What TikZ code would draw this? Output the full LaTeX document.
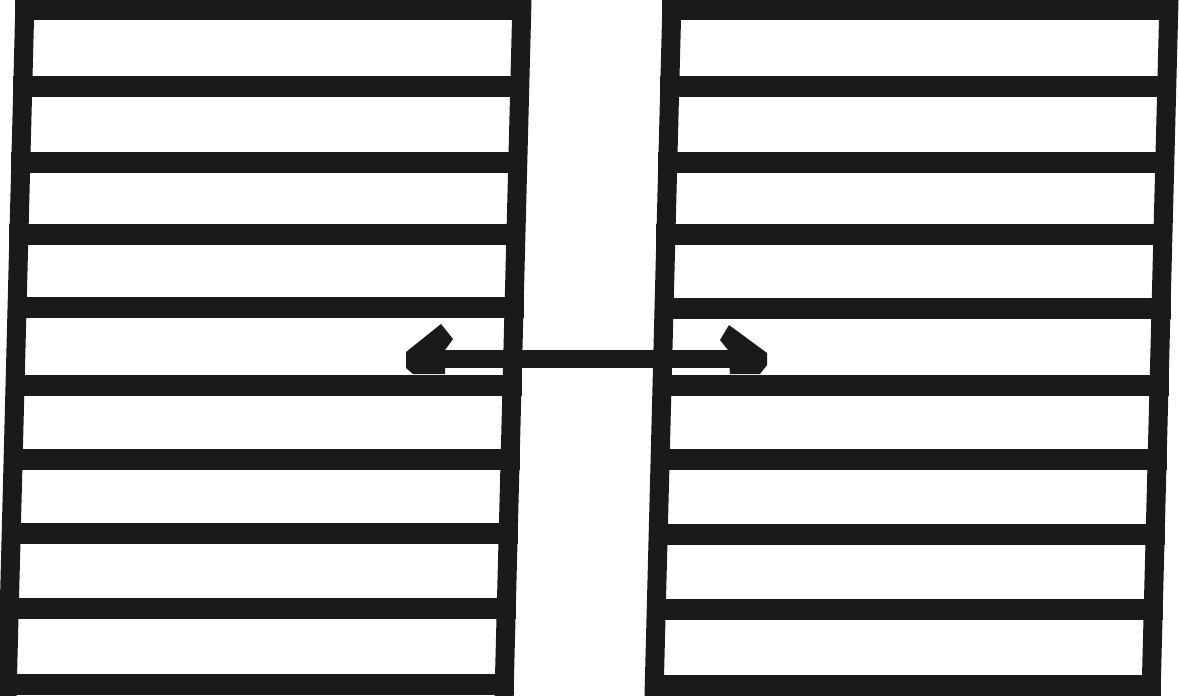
\documentclass[tikz,border=0pt]{standalone}
\begin{document}
\begin{tikzpicture}[x=1pt,y=-1pt,
  ink/.style={color={rgb,255:red,26;green,26;blue,26}},
  post/.style={ink, line width=19pt, line cap=butt},
  rung/.style={ink, line width=21pt, line cap=butt},
  shaft/.style={ink, line width=18pt, line cap=butt}]
\fill[white] (0,0) rectangle (1179,696);
\useasboundingbox (0,0) rectangle (1179,696);
% left frame
\coordinate (LTL) at (25,0);   \coordinate (LBL) at (7,696);
\coordinate (LTR) at (522,0);  \coordinate (LBR) at (504,696);
\draw[post] (LTL) -- (LBL);
\draw[post] (LTR) -- (LBR);
\foreach \y in {9,86,162,234,307.5,385,459.5,533.5,608.5,684.5}{
  \draw[rung] ({25-18*\y/696-9.5},\y) -- ({522-18*\y/696+9.5},\y);
}
% right frame
\coordinate (RTL) at (672,0);  \coordinate (RBL) at (654,696);
\coordinate (RTR) at (1169,0); \coordinate (RBR) at (1151,696);
\draw[post] (RTL) -- (RBL);
\draw[post] (RTR) -- (RBR);
\foreach \y in {9,86,162,234.5,308,385.5,459.5,534,609,685}{
  \draw[rung] ({672-18*\y/696-9.5},\y) -- ({1169-18*\y/696+9.5},\y);
}
% double-headed arrow
\coordinate (sL) at (440,359);
\coordinate (sR) at (734,359);
\draw[shaft] (sL) -- (sR);
\fill[ink, shift={(sL)}] (-34,-7) -- (1,-35) -- (13,-20) -- (5,-9) -- (5,15) -- (-27,15) -- (-34,9) -- cycle;
\fill[ink, shift={(sR)}] (-6,-9) -- (-14,-19) -- (-5,-34) -- (33,-6) -- (33,6) -- (26,15) -- (-4,15) -- cycle;
\end{tikzpicture}
\end{document}
